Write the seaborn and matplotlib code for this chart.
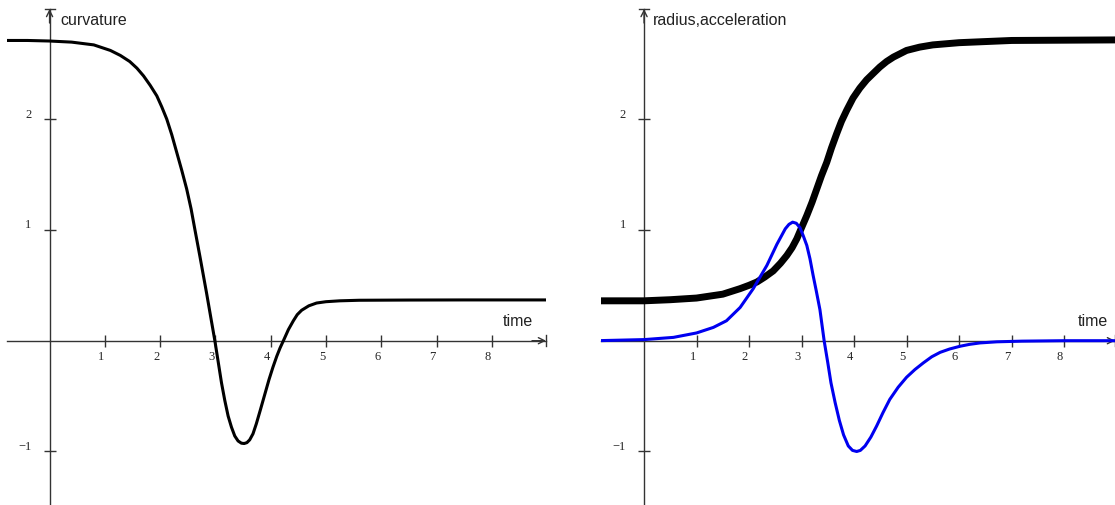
import matplotlib
matplotlib.use('Agg')
import matplotlib.pyplot as plt
import matplotlib.transforms as mtrans
import seaborn as sns

# Curvature over time (left panel)
curv_t = [-0.8, -0.4, 0.0, 0.4, 0.8, 1.1, 1.28, 1.45, 1.58, 1.70, 1.82, 1.94,
          2.03, 2.12, 2.21, 2.30, 2.39, 2.48, 2.56, 2.63, 2.72, 2.84, 2.92,
          2.99, 3.05, 3.11, 3.17, 3.23, 3.29, 3.35, 3.41, 3.47, 3.52, 3.57,
          3.62, 3.68, 3.74, 3.81, 3.89, 3.97, 4.04, 4.11, 4.17, 4.23, 4.32,
          4.41, 4.48, 4.56, 4.69, 4.83, 5.0, 5.25, 5.6, 6.5, 7.5, 9.1]
curv_v = [2.71, 2.71, 2.705, 2.695, 2.67, 2.62, 2.575, 2.52, 2.46, 2.39, 2.305,
          2.21, 2.11, 2.00, 1.86, 1.70, 1.54, 1.37, 1.19, 1.00, 0.76, 0.43,
          0.20, 0.0, -0.19, -0.38, -0.54, -0.68, -0.78, -0.86, -0.905, -0.925,
          -0.928, -0.92, -0.895, -0.84, -0.75, -0.63, -0.49, -0.35, -0.24,
          -0.14, -0.065, 0.0, 0.10, 0.18, 0.235, 0.275, 0.315, 0.34, 0.352,
          0.36, 0.365, 0.367, 0.368, 0.368]

# Radius over time (right panel, thick black)
rad_t = [-0.9, 0.0, 0.5, 1.0, 1.5, 1.83, 2.0, 2.15, 2.30, 2.46, 2.60, 2.72,
         2.82, 2.91, 3.00, 3.10, 3.20, 3.29, 3.38, 3.48, 3.57, 3.67, 3.76,
         3.86, 3.98, 4.11, 4.24, 4.37, 4.49, 4.62, 4.75, 5.0, 5.25, 5.5, 6.0,
         7.0, 9.0]
rad_v = [0.36, 0.36, 0.37, 0.385, 0.42, 0.47, 0.50, 0.53, 0.575, 0.63, 0.70,
         0.77, 0.84, 0.92, 1.02, 1.13, 1.25, 1.37, 1.49, 1.61, 1.74, 1.87,
         1.98, 2.08, 2.19, 2.28, 2.355, 2.415, 2.47, 2.52, 2.56, 2.62, 2.65,
         2.67, 2.69, 2.71, 2.715]

# Acceleration over time (right panel, blue)
acc_t = [-0.9, 0.0, 0.56, 1.0, 1.32, 1.57, 1.83, 2.08, 2.34, 2.53, 2.69, 2.76,
         2.83, 2.90, 2.97, 3.03, 3.10, 3.16, 3.22, 3.28, 3.35, 3.43, 3.50,
         3.56, 3.64, 3.72, 3.80, 3.89, 3.97, 4.05, 4.12, 4.21, 4.32, 4.43,
         4.55, 4.68, 4.84, 5.0, 5.16, 5.32, 5.48, 5.64, 5.82, 6.02, 6.2, 6.4,
         6.72, 7.2, 8.0, 9.0]
acc_v = [0.0, 0.01, 0.03, 0.07, 0.12, 0.18, 0.30, 0.47, 0.68, 0.87, 1.01, 1.05,
         1.07, 1.06, 1.02, 0.95, 0.86, 0.74, 0.59, 0.45, 0.28, 0.0, -0.20,
         -0.38, -0.56, -0.72, -0.85, -0.95, -0.99, -1.0, -0.99, -0.95, -0.87,
         -0.77, -0.65, -0.53, -0.42, -0.33, -0.26, -0.20, -0.145, -0.105,
         -0.075, -0.05, -0.033, -0.02, -0.01, -0.004, 0.0, 0.0]

x_ticks = [1, 2, 3, 4, 5, 6, 7, 8]
x_tick_labels = ['1', '2', '3', '4', '5', '6', '7', '8']
y_ticks = [-1, 1, 2]
y_tick_labels = ['\u22121', '1', '2']

AXIS_COLOR = '#333333'

sns.set_style('white')
plt.rcParams['font.family'] = ['Liberation Sans', 'DejaVu Sans']


def style_axes(fig, ax, xlim, ylim, ylabel, xlabel_x, ylabel_x):
    ax.set_xlim(*xlim)
    ax.set_ylim(*ylim)
    for side in ['left', 'bottom']:
        ax.spines[side].set_position(('data', 0))
    for side in ['left', 'bottom', 'top', 'right']:
        ax.spines[side].set_color(AXIS_COLOR)
        ax.spines[side].set_linewidth(1.0)
    # small end bars at the tips of both axes
    ax.spines['top'].set_bounds(-0.09, 0.09)
    ax.spines['right'].set_bounds(-0.05, 0.05)

    ax.set_xticks(x_ticks)
    ax.set_xticklabels(x_tick_labels)
    ax.set_yticks(y_ticks)
    ax.set_yticklabels(y_tick_labels)
    ax.tick_params(axis='x', direction='inout', length=8, width=1,
                   color=AXIS_COLOR, labelsize=9, pad=3,
                   bottom=True, top=False)
    ax.tick_params(axis='y', direction='inout', length=8, width=1,
                   color=AXIS_COLOR, labelsize=9, pad=9,
                   left=True, right=False)

    # Tick labels sit a little left of / above their ticks
    dx = mtrans.ScaledTranslation(-4 / 100, 0, fig.dpi_scale_trans)
    dy = mtrans.ScaledTranslation(0, 7 / 100, fig.dpi_scale_trans)
    for lab in ax.get_xticklabels():
        lab.set_transform(lab.get_transform() + dx)
        lab.set_family('Liberation Serif')
    for lab in ax.get_yticklabels():
        lab.set_transform(lab.get_transform() + dy)
        lab.set_family('Liberation Serif')

    # Arrow heads on both axes
    arrow = dict(arrowstyle='->', color=AXIS_COLOR, lw=1, mutation_scale=11,
                 shrinkA=0, shrinkB=0)
    ax.annotate('', xy=(1, 0), xycoords=('axes fraction', 'data'),
                xytext=(-14, 0), textcoords='offset pixels',
                arrowprops=arrow, annotation_clip=False)
    ax.annotate('', xy=(0, 1), xycoords=('data', 'axes fraction'),
                xytext=(0, -14), textcoords='offset pixels',
                arrowprops=arrow, annotation_clip=False)

    # Axis names
    ax.text(ylabel_x, 2.9, ylabel, fontsize=11.5, va='center', ha='left',
            color='#222222')
    ax.text(xlabel_x, 0.18, 'time', fontsize=11.5, va='center', ha='left',
            color='#222222')


fig = plt.figure(figsize=(11.15, 5.06), dpi=100)
ylim = (-1.483, 2.994)

# Left panel: curvature
ax1 = fig.add_axes([7 / 1115, 0, 539 / 1115, 496 / 506])
sns.lineplot(x=curv_t, y=curv_v, ax=ax1, color='black', linewidth=2.2,
             zorder=3, solid_joinstyle='round')
style_axes(fig, ax1, (-0.77, 8.98), ylim, 'curvature', 8.2, 0.19)

# Right panel: radius and acceleration
ax2 = fig.add_axes([601 / 1115, 0, 514 / 1115, 496 / 506])
sns.lineplot(x=rad_t, y=rad_v, ax=ax2, color='black', linewidth=5.0,
             zorder=3, solid_joinstyle='round')
sns.lineplot(x=acc_t, y=acc_v, ax=ax2, color='#0000f0', linewidth=2.2,
             zorder=4, solid_joinstyle='round')
style_axes(fig, ax2, (-0.82, 8.97), ylim, 'radius,acceleration', 8.27, 0.17)

fig.savefig('out.png', dpi=100)
plt.close(fig)
